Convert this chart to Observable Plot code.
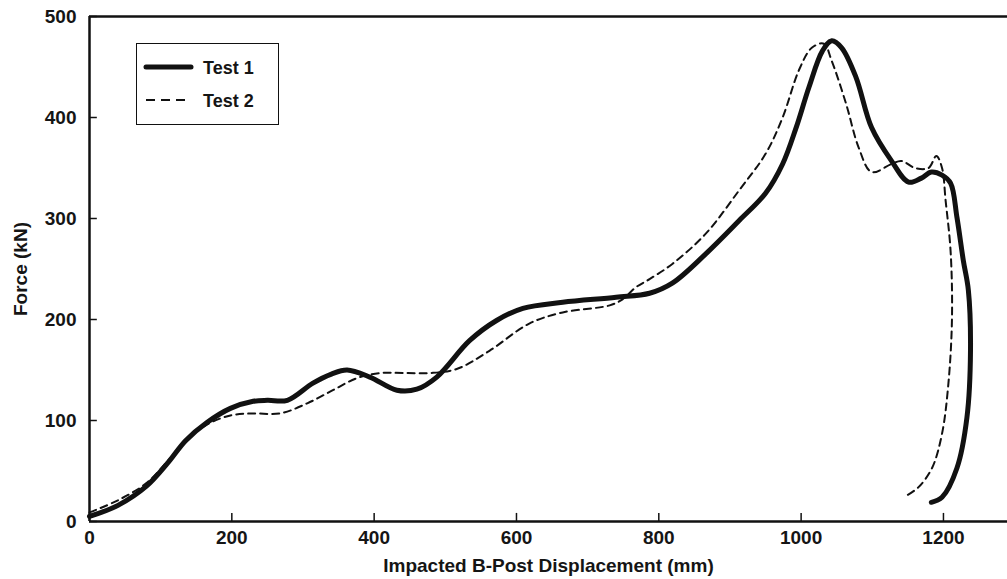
<!DOCTYPE html>
<html>
<head>
<meta charset="utf-8">
<script src="https://cdn.jsdelivr.net/npm/d3@7"></script>
<script src="https://cdn.jsdelivr.net/npm/@observablehq/plot@0.6"></script>
<style>
  html, body { margin: 0; padding: 0; background: #fff; }
  #wrap { position: relative; width: 1007px; height: 579px; font-family: "Liberation Sans", Arial, sans-serif; }
  #legend { position: absolute; left: 136px; top: 43px; width: 141px; height: 80px; border: 1.5px solid #111; background: #fff; }
  #legend svg { position: absolute; left: 0; top: 0; }
</style>
</head>
<body>
<div id="wrap"></div>
<script>
const xTicks = [0, 200, 400, 600, 800, 1000, 1200];
const yTicks = [0, 100, 200, 300, 400, 500];

const test1X = [0, 40, 80, 110, 135, 165, 198, 230, 250, 278, 314, 340, 362, 394, 432, 460, 488, 534, 572, 609, 665, 740, 787, 819, 866, 913, 950, 974, 993, 1011, 1030, 1043, 1057, 1077, 1099, 1127, 1151, 1169, 1183, 1198, 1210, 1219, 1228, 1235, 1238, 1233, 1219, 1198, 1183];
const test1Y = [5, 16, 35, 58, 80, 98, 112, 119, 120, 120, 137, 146, 150, 143, 130, 131, 143, 179, 199, 211, 217, 222, 226, 236, 265, 298, 325, 354, 390, 430, 466, 476, 469, 440, 390, 357, 336, 340, 346, 343, 335, 301, 258, 229, 169, 103, 53, 24, 19];

const test2X = [0, 40, 80, 110, 135, 165, 198, 230, 268, 306, 342, 376, 408, 440, 478, 516, 562, 618, 665, 731, 749, 768, 787, 819, 866, 913, 950, 974, 997, 1015, 1032, 1043, 1063, 1081, 1099, 1127, 1141, 1160, 1179, 1190, 1198, 1203, 1210, 1212, 1207, 1198, 1184, 1165, 1149];
const test2Y = [9, 21, 38, 60, 80, 96, 105, 107, 107, 117, 130, 142, 147, 147, 147, 151, 169, 196, 207, 214, 220, 232, 240, 255, 285, 328, 364, 400, 447, 469, 473, 456, 414, 370, 346, 354, 357, 350, 350, 362, 350, 318, 268, 202, 137, 87, 53, 34, 26];

const seriesNames = ["Test 1", "Test 2"];

const t1 = test1X.map((x, i) => ({x, y: test1Y[i]}));
const t2 = test2X.map((x, i) => ({x, y: test2Y[i]}));

const chart = Plot.plot({
  width: 1007,
  height: 579,
  marginLeft: 89,
  marginRight: 0,
  marginTop: 16,
  marginBottom: 58,
  style: {fontFamily: "'Liberation Sans', Arial, sans-serif", fontSize: "19px", fontWeight: "bold", color: "#151515", background: "#fff"},
  x: {domain: [0, 1290], ticks: xTicks, tickFormat: d => String(d), tickSize: 0, tickPadding: 9, label: "Impacted B-Post Displacement (mm)", labelArrow: "none", labelAnchor: "center", labelOffset: 50},
  y: {domain: [0, 500], ticks: yTicks, tickFormat: d => String(d), tickSize: 0, tickPadding: 13, label: "Force (kN)", labelArrow: "none", labelAnchor: "center", labelOffset: 76},
  marks: [
    Plot.ruleX(xTicks, {y1: 0, y2: 8, stroke: "#111", strokeWidth: 1.5}),
    Plot.ruleY(yTicks, {x1: 0, x2: 11, stroke: "#111", strokeWidth: 1.5}),
    Plot.line(t2, {x: "x", y: "y", stroke: "#111", strokeWidth: 2, strokeDasharray: "7,5", curve: "catmull-rom"}),
    Plot.line(t1, {x: "x", y: "y", stroke: "#111", strokeWidth: 5, curve: "catmull-rom"}),
    Plot.ruleY([0], {stroke: "#111", strokeWidth: 2.5}),
    Plot.ruleY([500], {stroke: "#111", strokeWidth: 2.5}),
    Plot.ruleX([0], {stroke: "#111", strokeWidth: 2.5})
  ]
});

const wrap = document.getElementById("wrap");
wrap.appendChild(chart);

const legend = document.createElement("div");
legend.id = "legend";
legend.innerHTML = `<svg width="141" height="80" font-family="'Liberation Sans', Arial, sans-serif" font-size="18" font-weight="bold" fill="#151515">
  <line x1="9" x2="54" y1="23" y2="23" stroke="#111" stroke-width="5" stroke-linecap="round"/>
  <text x="66" y="30">${seriesNames[0]}</text>
  <line x1="9" x2="54" y1="56" y2="56" stroke="#111" stroke-width="2" stroke-dasharray="9,6"/>
  <text x="66" y="63">${seriesNames[1]}</text>
</svg>`;
wrap.appendChild(legend);
</script>
</body>
</html>
